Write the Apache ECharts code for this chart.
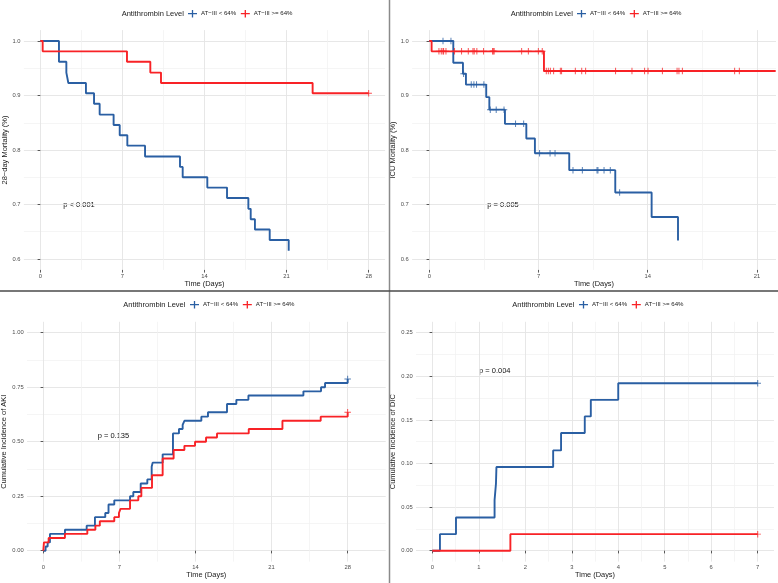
<!DOCTYPE html>
<html>
<head>
<meta charset="utf-8">
<script src="https://cdn.jsdelivr.net/npm/echarts@6/dist/echarts.min.js"></script>
<style>
html, body { margin: 0; padding: 0; background: #fff; }
#chart { width: 778px; height: 583px; }
</style>
</head>
<body>
<div id="chart"></div>
<script>
const LOW = 'AT−III < 64%';
const HIGH = 'AT−III >= 64%';
const BLUE = '#2A5FA3';
const RED = '#F82226';
const FONT = '"Liberation Sans", Arial, Helvetica, sans-serif';

// 28-day mortality
const mortTimeLow = [0, 1.59, 2.22, 2.39, 3.89, 4.58, 5.06, 6.25, 6.77, 7.42, 8.93, 11.91, 12.14, 14.24, 15.92, 17.74, 17.94, 18.3, 19.56, 21.18];
const mortSurvLow = [1, 0.962, 0.942, 0.923, 0.904, 0.885, 0.865, 0.846, 0.827, 0.808, 0.788, 0.769, 0.75, 0.731, 0.712, 0.692, 0.673, 0.654, 0.635, 0.615];
const mortCensLow = [];
const mortTimeHigh = [0, 0.2, 7.39, 9.38, 10.29, 23.22, 28];
const mortSurvHigh = [1, 0.981, 0.962, 0.942, 0.923, 0.904, 0.904];
const mortCensHigh = [28];

// ICU mortality
const icuTimeLow = [0, 1.54, 2.16, 2.35, 3.65, 3.85, 4.85, 6.22, 6.77, 8.97, 11.92, 14.25, 15.94];
const icuSurvLow = [1, 0.96, 0.94, 0.92, 0.897, 0.874, 0.848, 0.821, 0.794, 0.763, 0.722, 0.677, 0.634];
const icuCensLow = [0.88, 1.39, 2.2, 2.69, 2.86, 3.03, 3.5, 3.91, 4.29, 4.79, 5.53, 6.05, 7.07, 7.74, 8.06, 9.21, 9.81, 10.75, 10.81, 11.2, 11.6, 12.2];
const icuTimeHigh = [0, 0.15, 7.35, 22.2];
const icuSurvHigh = [1, 0.981, 0.945, 0.945];
const icuCensHigh = [0.62, 0.77, 0.88, 0.92, 1.07, 1.62, 2.07, 2.5, 2.8, 2.88, 3.05, 3.48, 4.06, 4.1, 4.16, 5.92, 6.35, 6.99, 7.24,
  7.5, 7.63, 7.76, 7.97, 8.4, 8.48, 9.36, 9.77, 10.02, 11.94, 12.99, 13.8, 14.02, 14.94, 15.88, 16.0, 16.22, 19.57, 19.87];

// cumulative incidence of AKI
const akiTimeLow = [0, 0.21, 0.4, 0.61, 1.99, 3.99, 4.75, 5.7, 6.0, 6.53, 7.98, 8.28, 8.96, 9.57, 9.97, 10.06, 10.98, 11.93, 12.48, 12.82, 12.98, 14.54, 15.15, 16.9, 17.76, 18.87, 23.93, 25.55, 25.92, 28];
const akiIncLow = [0, 0.019, 0.038, 0.077, 0.096, 0.115, 0.154, 0.173, 0.212, 0.231, 0.25, 0.269, 0.308, 0.327, 0.385, 0.404, 0.442, 0.538, 0.558, 0.577, 0.596, 0.615, 0.635, 0.673, 0.692, 0.712, 0.731, 0.75, 0.769, 0.788];
const akiCensLow = [28];
const akiTimeHigh = [0, 0.06, 0.49, 1.99, 4.05, 4.79, 5.2, 6.53, 6.96, 7.1, 7.98, 8.74, 9.02, 10.0, 10.98, 11.99, 12.98, 13.96, 14.97, 15.98, 18.9, 22.0, 25.52, 28];
const akiIncHigh = [0, 0.038, 0.058, 0.077, 0.096, 0.115, 0.135, 0.154, 0.173, 0.192, 0.231, 0.25, 0.288, 0.346, 0.423, 0.462, 0.481, 0.5, 0.519, 0.538, 0.558, 0.596, 0.615, 0.635];
const akiCensHigh = [28];

// cumulative incidence of DIC
const dicTimeLow = [0, 0.165, 0.51, 1.34, 1.37, 1.38, 2.6, 2.77, 3.28, 3.41, 4.0, 7];
const dicIncLow = [0, 0.019, 0.038, 0.058, 0.077, 0.096, 0.115, 0.135, 0.154, 0.173, 0.192, 0.192];
const dicCensLow = [7];
const dicTimeHigh = [0, 1.68, 7];
const dicIncHigh = [0, 0.019, 0.019];
const dicCensHigh = [7];

// axis breaks
const xMajor28 = [0, 7, 14, 21, 28];
const xMinor28 = [3.5, 10.5, 17.5, 24.5];
const xMajor21 = [0, 7, 14, 21];
const xMinor21 = [3.5, 10.5, 17.5];
const xMajor7 = [0, 1, 2, 3, 4, 5, 6, 7];
const xMinor7 = [0.5, 1.5, 2.5, 3.5, 4.5, 5.5, 6.5];
const yMajorMort = [0.6, 0.7, 0.8, 0.9, 1.0];
const yMinorMort = [0.65, 0.75, 0.85, 0.95];
const yMajorAki = [0, 0.25, 0.5, 0.75, 1.0];
const yMinorAki = [0.125, 0.375, 0.625, 0.875];
const yMajorDic = [0, 0.05, 0.1, 0.15, 0.2, 0.25];
const yMinorDic = [0.025, 0.075, 0.125, 0.175, 0.225];

const panels = [
  { grid: { left: 23.9, top: 30.1, width: 361.2, height: 239.8 }, x: [-1.4, 29.4], y: [0.58, 1.02],
    xMajor: xMajor28, xMinor: xMinor28, yMajor: yMajorMort, yMinor: yMinorMort, digits: 1,
    yName: '28−day Mortality (%)', yGap: 11,
    low: [mortTimeLow, mortSurvLow, mortCensLow], high: [mortTimeHigh, mortSurvHigh, mortCensHigh],
    legendX: 188, legendY: 14, titleX: 121.7, pval: 'p < 0.001', pX: 63.3, pY: 205 },
  { grid: { left: 412.1, top: 30.1, width: 363.9, height: 239.8 }, x: [-1.1, 22.22], y: [0.58, 1.02],
    xMajor: xMajor21, xMinor: xMinor21, yMajor: yMajorMort, yMinor: yMinorMort, digits: 1,
    yName: 'ICU Mortality (%)', yGap: 10.5,
    low: [icuTimeLow, icuSurvLow, icuCensLow], high: [icuTimeHigh, icuSurvHigh, icuCensHigh],
    legendX: 389 + 188, legendY: 14, titleX: 389 + 121.7, pval: 'p = 0.005', pX: 487.3, pY: 205 },
  { grid: { left: 27.0, top: 321.8, width: 358.7, height: 239.8 }, x: [-1.5, 31.5], y: [-0.05, 1.05],
    xMajor: xMajor28, xMinor: xMinor28, yMajor: yMajorAki, yMinor: yMinorAki, digits: 2,
    yName: 'Cumulative Incidence of AKI', yGap: 14.2,
    low: [akiTimeLow, akiIncLow, akiCensLow], high: [akiTimeHigh, akiIncHigh, akiCensHigh],
    legendX: 190, legendY: 305, titleX: 123.3, pval: 'p = 0.135', pX: 97.7, pY: 436 },
  { grid: { left: 416.0, top: 321.8, width: 358.0, height: 239.8 }, x: [-0.35, 7.35], y: [-0.0125, 0.2625],
    xMajor: xMajor7, xMinor: xMinor7, yMajor: yMajorDic, yMinor: yMinorDic, digits: 2,
    yName: 'Cumulative Incidence of DIC', yGap: 14.2,
    low: [dicTimeLow, dicIncLow, dicCensLow], high: [dicTimeHigh, dicIncHigh, dicCensHigh],
    legendX: 389 + 190, legendY: 305, titleX: 389 + 123.3, pval: 'p = 0.004', pX: 479, pY: 370.7 }
];

const legendIcon = 'path://M0,3.35h9v1.3h-9z M3.85,0.3h1.3v7.4h-1.3z';
const censorIcon = 'path://M0,2.55h6v0.9h-6z M2.55,0h0.9v6h-0.9z';

function valueAt(times, vals, t) {
  let v = vals[0];
  for (let i = 0; i < times.length; i++) if (times[i] <= t) v = vals[i];
  return v;
}

const grids = [], xAxes = [], yAxes = [], series = [], legends = [], graphics = [];

panels.forEach((p, i) => {
  grids.push(Object.assign({ outerBoundsMode: 'none', containLabel: false }, p.grid));

  xAxes.push({
    type: 'value', gridIndex: i, min: p.x[0], max: p.x[1], position: 'bottom',
    axisLine: { show: false },
    axisTick: { show: true, length: 2.7, lineStyle: { color: '#333', width: 0.8 }, customValues: p.xMajor },
    axisLabel: { customValues: p.xMajor, fontSize: 5.8, color: '#4d4d4d', margin: 3, fontFamily: FONT, formatter: v => String(v) },
    splitLine: { show: true, lineStyle: { color: '#e4e4e4', width: 0.9 } },
    name: 'Time (Days)', nameLocation: 'middle', nameGap: 10.2,
    nameTextStyle: { fontSize: 7.4, color: '#1a1a1a', fontFamily: FONT }
  });
  xAxes.push({
    type: 'value', gridIndex: i, min: p.x[0], max: p.x[1], position: 'bottom',
    axisLine: { show: false }, axisTick: { show: false, customValues: p.xMinor },
    axisLabel: { show: false },
    splitLine: { show: true, lineStyle: { color: '#f1f1f1', width: 0.7 } }
  });
  yAxes.push({
    type: 'value', gridIndex: i, min: p.y[0], max: p.y[1], position: 'left',
    axisLine: { show: false },
    axisTick: { show: true, length: 2.7, lineStyle: { color: '#333', width: 0.8 }, customValues: p.yMajor },
    axisLabel: { customValues: p.yMajor, fontSize: 5.8, color: '#4d4d4d', margin: 3.4, fontFamily: FONT, formatter: v => v.toFixed(p.digits) },
    splitLine: { show: true, lineStyle: { color: '#e4e4e4', width: 0.9 } },
    name: p.yName, nameLocation: 'middle', nameGap: p.yGap, nameRotate: 90,
    nameTextStyle: { fontSize: 7.5, color: '#1a1a1a', fontFamily: FONT }
  });
  yAxes.push({
    type: 'value', gridIndex: i, min: p.y[0], max: p.y[1], position: 'left',
    axisLine: { show: false }, axisTick: { show: false, customValues: p.yMinor },
    axisLabel: { show: false },
    splitLine: { show: true, lineStyle: { color: '#f1f1f1', width: 0.7 } }
  });

  [[LOW, BLUE, p.low], [HIGH, RED, p.high]].forEach(([name, color, d]) => {
    const [times, vals, cens] = d;
    series.push({
      name, type: 'line', step: 'end', xAxisIndex: 2 * i, yAxisIndex: 2 * i,
      data: times.map((t, k) => [t, vals[k]]),
      showSymbol: false, symbol: 'none', color,
      lineStyle: { color, width: 1.9 }, clip: true, z: 3
    });
    series.push({
      name, type: 'scatter', xAxisIndex: 2 * i, yAxisIndex: 2 * i,
      data: cens.map(t => [t, valueAt(times, vals, t)]),
      symbol: censorIcon, symbolSize: 6.5, itemStyle: { color }, z: 4
    });
  });

  legends.push({
    left: p.legendX, top: p.legendY - 4, padding: 0, itemWidth: 9, itemHeight: 8, itemGap: 4.7,
    data: [{ name: LOW, icon: legendIcon }, { name: HIGH, icon: legendIcon }],
    textStyle: { fontSize: 6.1, color: '#222', fontFamily: FONT, padding: [0, 0, 0, -1] },
    selectedMode: false
  });
  graphics.push({
    type: 'text', x: p.titleX, y: p.legendY,
    style: { text: 'Antithrombin Level', fontSize: 7.5, fontFamily: FONT, fill: '#1a1a1a',
      align: 'left', verticalAlign: 'middle', textAlign: 'left', textVerticalAlign: 'middle' }
  });
  graphics.push({
    type: 'text', x: p.pX, y: p.pY,
    style: { text: p.pval, fontSize: 7.5, fontFamily: FONT, fill: '#111',
      align: 'left', verticalAlign: 'middle', textAlign: 'left', textVerticalAlign: 'middle' }
  });
});

// panel separators
graphics.push({ type: 'line', shape: { x1: 389.5, y1: 0, x2: 389.5, y2: 583 }, style: { stroke: '#8a8a8a', lineWidth: 1.5 }, z: 10 });
graphics.push({ type: 'line', shape: { x1: 0, y1: 291, x2: 778, y2: 291 }, style: { stroke: '#4a4a4a', lineWidth: 1.5 }, z: 10 });

const chart = echarts.init(document.getElementById('chart'), null, { renderer: 'canvas' });
chart.setOption({
  backgroundColor: '#ffffff',
  animation: false,
  grid: grids,
  xAxis: xAxes,
  yAxis: yAxes,
  legend: legends,
  series: series,
  graphic: graphics
});
</script>
</body>
</html>
